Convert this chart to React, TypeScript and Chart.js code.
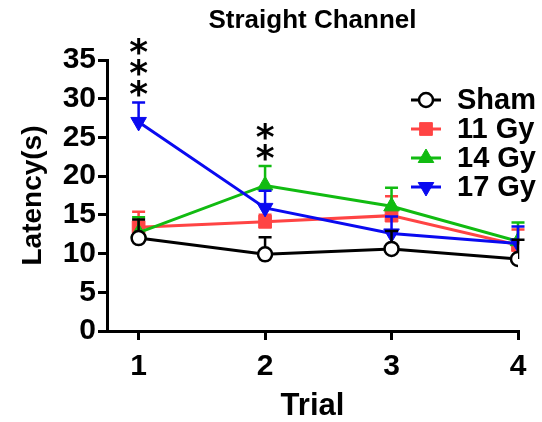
import { useEffect, useRef } from 'react';
import { Chart, registerables } from 'chart.js';
import { drawPoint } from 'chart.js/helpers';

Chart.register(...registerables);

const titleText = 'Straight Channel';
const xTitle = 'Trial';
const yTitle = 'Latency(s)';
const trials = [1, 2, 3, 4];
const seriesLabels = ['Sham', '11 Gy', '14 Gy', '17 Gy'];
const sham = [12.0, 9.9, 10.6, 9.3];
const shamErr = [2.4, 2.2, 2.3, 2.5];
const gy11 = [13.4, 14.1, 14.9, 11.1];
const gy11Err = [2.0, 0.9, 2.5, 2.0];
const gy14 = [12.7, 18.8, 16.1, 11.6];
const gy14Err = [2.0, 2.5, 2.4, 2.4];
const gy17 = [27.0, 15.9, 12.6, 11.3];
const gy17Err = [2.5, 2.2, 2.2, 2.2];
const sigTrials = [1, 2];
const sigMarks = ['***', '**'];

const FONT = '"Liberation Sans", Arial, sans-serif';
const colors = ['#000000', '#ff4444', '#11bb11', '#0a0af0'];
const fills = ['#ffffff', '#ff4444', '#11bb11', '#0a0af0'];
const styles = ['circle', 'rect', 'triangle', 'triangle'];
const rotations = [0, 0, 0, 180];
const radii = [7, 9, 9, 9];
const orders = [0, 3, 2, 1];
const values = [sham, gy11, gy14, gy17];
const errors = [shamErr, gy11Err, gy14Err, gy17Err];

const errorBarPlugin = {
  id: 'errorBars',
  beforeDatasetDraw(chart: any, args: any) {
    const ds = chart.data.datasets[args.index];
    const xs = chart.scales.x;
    const ys = chart.scales.y;
    const ctx = chart.ctx;
    ctx.save();
    ctx.strokeStyle = ds.borderColor;
    ctx.lineWidth = 2.5;
    ds.data.forEach((p: any, i: number) => {
      const e = ds.errs[i];
      const x = xs.getPixelForValue(p.x);
      const y0 = ys.getPixelForValue(p.y);
      const y1 = ys.getPixelForValue(p.y + e);
      ctx.beginPath();
      ctx.moveTo(x, y0);
      ctx.lineTo(x, y1);
      ctx.moveTo(x - 6.5, y1);
      ctx.lineTo(x + 6.5, y1);
      ctx.stroke();
    });
    ctx.restore();
  },
};

const annotPlugin = {
  id: 'annot',
  afterDraw(chart: any) {
    const ctx = chart.ctx;
    const { chartArea } = chart;
    const xs = chart.scales.x;
    const ys = chart.scales.y;
    ctx.save();
    // title
    ctx.fillStyle = '#000';
    ctx.font = `bold 26px ${FONT}`;
    ctx.textAlign = 'center';
    ctx.textBaseline = 'middle';
    ctx.fillText(titleText, (chartArea.left + chartArea.right) / 2, 21);
    // significance stars
    ctx.font = `bold 36px "DejaVu Sans"`;
    ctx.textBaseline = 'alphabetic';
    const m = ctx.measureText('*');
    const asc = m.actualBoundingBoxAscent;
    const desc = m.actualBoundingBoxDescent;
    sigTrials.forEach((t, k) => {
      const idx = trials.indexOf(t);
      let top = 0;
      values.forEach((vals, s) => {
        top = Math.max(top, vals[idx] + errors[s][idx]);
      });
      const x = xs.getPixelForValue(t);
      const yTop = ys.getPixelForValue(top);
      for (let j = 0; j < sigMarks[k].length; j++) {
        const cy = yTop - 14 - j * 21;
        ctx.fillText('*', x, cy + (asc - desc) / 2);
      }
    });
    // legend
    ctx.font = `bold 29px ${FONT}`;
    ctx.textAlign = 'left';
    ctx.textBaseline = 'middle';
    chart.data.datasets.forEach((ds: any, i: number) => {
      const y = 100 + i * 29;
      ctx.strokeStyle = ds.borderColor;
      ctx.lineWidth = 3;
      ctx.beginPath();
      ctx.moveTo(411, y);
      ctx.lineTo(441, y);
      ctx.stroke();
      ctx.fillStyle = ds.pointBackgroundColor;
      ctx.strokeStyle = ds.pointBorderColor;
      ctx.lineWidth = ds.pointBorderWidth;
      drawPoint(ctx, { pointStyle: ds.pointStyle, rotation: ds.pointRotation, radius: ds.pointRadius, borderWidth: ds.pointBorderWidth }, 426, y);
      ctx.fillStyle = '#000';
      ctx.fillText(ds.label, 457, y + 1);
    });
    ctx.restore();
  },
};

export default function App() {
  const ref = useRef<HTMLCanvasElement>(null);
  useEffect(() => {
    if (!ref.current) return;
    Chart.defaults.color = '#000';
    const datasets = seriesLabels.map((label, s) => ({
      label,
      data: trials.map((t, i) => ({ x: t, y: values[s][i] })),
      errs: errors[s],
      borderColor: colors[s],
      backgroundColor: fills[s],
      borderWidth: 3,
      pointStyle: styles[s],
      pointRotation: rotations[s],
      pointRadius: radii[s],
      pointHoverRadius: radii[s],
      pointBackgroundColor: fills[s],
      pointBorderColor: colors[s],
      pointBorderWidth: s === 0 ? 2.5 : 1,
      order: orders[s],
      tension: 0,
    }));
    const chart = new Chart(ref.current, {
      type: 'line',
      data: { datasets } as any,
      options: {
        animation: false,
        responsive: false,
        layout: { padding: { left: 0, right: 24, top: 60, bottom: 0 } },
        plugins: { legend: { display: false }, title: { display: false }, tooltip: { enabled: false } },
        scales: {
          x: {
            type: 'linear',
            min: 0.75,
            max: 4,
            afterBuildTicks: (scale: any) => {
              scale.ticks = trials.map((v) => ({ value: v }));
            },
            afterFit: (scale: any) => {
              scale.height = 91;
            },
            grid: { drawOnChartArea: false, drawTicks: true, tickLength: 9, lineWidth: 3, color: '#000' },
            border: { display: true, width: 3, color: '#000' },
            ticks: { autoSkip: false, maxRotation: 0, font: { family: FONT, size: 30, weight: 'bold' }, padding: 9, color: '#000' },
            title: { display: true, text: xTitle, font: { family: FONT, size: 31, weight: 'bold', lineHeight: 1 }, padding: { top: 0, bottom: 0 }, color: '#000' },
          },
          y: {
            type: 'linear',
            min: 0,
            max: 35,
            ticks: { autoSkip: false, stepSize: 5, font: { family: FONT, size: 30, weight: 'bold', lineHeight: 1 }, padding: 2, color: '#000' },
            afterFit: (scale: any) => {
              scale.width = 107;
            },
            grid: { drawOnChartArea: false, drawTicks: true, tickLength: 9, lineWidth: 3, color: '#000' },
            border: { display: true, width: 3, color: '#000' },
            title: { display: true, text: yTitle, font: { family: FONT, size: 28, weight: 'bold', lineHeight: 1 }, padding: { top: 19, bottom: 0 }, color: '#000' },
          },
        },
      } as any,
      plugins: [errorBarPlugin, annotPlugin],
    });
    return () => chart.destroy();
  }, []);
  return (
    <div style={{ position: 'absolute', left: 0, top: 0, width: 542, height: 422, background: '#fff' }}>
      <canvas ref={ref} width={542} height={422} />
    </div>
  );
}
